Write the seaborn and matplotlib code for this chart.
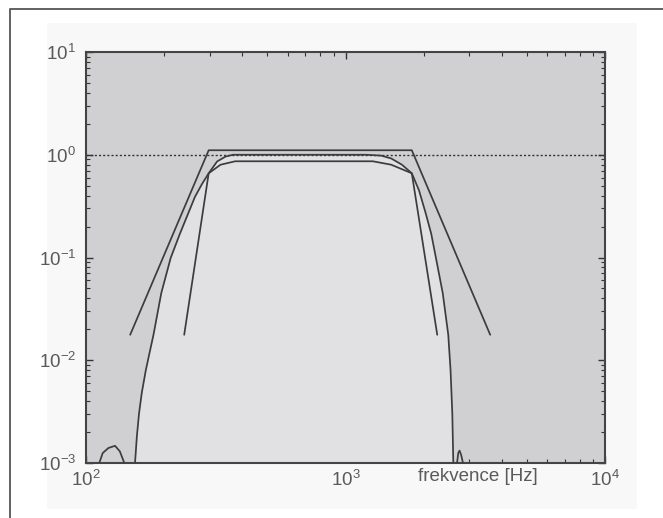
import numpy as np
import pandas as pd
import matplotlib
matplotlib.use("Agg")
import matplotlib.pyplot as plt
import seaborn as sns
from matplotlib.patches import Rectangle
from matplotlib.lines import Line2D

# outer tolerance envelope
outer_f = [148, 297, 1801, 3611]
outer_a = [0.0177, 1.106, 1.106, 0.0177]

# inner tolerance envelope
inner_f = [239, 297, 330, 376, 1274, 1500, 1801, 2257]
inner_a = [0.0177, 0.66, 0.80, 0.864, 0.864, 0.80, 0.66, 0.0177]

# filter response (filled)
resp_f = [154.5, 157, 160, 164, 170, 176, 182, 195, 212, 230, 263, 280, 297,
          320, 345, 369, 500, 800, 1200, 1374, 1500, 1650, 1801, 1920, 2037,
          2140, 2240, 2370, 2489, 2540, 2580, 2603]
resp_a = [0.001, 0.0018, 0.003, 0.0048, 0.008, 0.012, 0.0177, 0.045, 0.099,
          0.17, 0.39, 0.52, 0.66, 0.86, 0.96, 1.0, 1.0, 1.0, 1.0, 0.98, 0.92,
          0.80, 0.66, 0.45, 0.27, 0.17, 0.094, 0.045, 0.0177, 0.008, 0.003,
          0.001]

# side lobes
lobe1_f = [112.5, 116, 122, 129.4, 135, 140.5]
lobe1_a = [0.001, 0.00125, 0.0014, 0.00147, 0.0013, 0.001]
lobe2_f = [2690, 2720, 2750, 2790, 2836]
lobe2_a = [0.001, 0.00125, 0.00132, 0.0012, 0.001]

sns.set_style("ticks")
plt.rcParams["font.family"] = ["Liberation Sans", "DejaVu Sans"]
plt.rcParams["mathtext.fontset"] = "custom"
plt.rcParams["mathtext.rm"] = "Liberation Sans"
plt.rcParams["mathtext.it"] = "Liberation Sans"

fig = plt.figure(figsize=(6.63, 5.18), dpi=100)
fig.patch.set_facecolor("white")
# faint panel and frame around the figure
fig.add_artist(Rectangle((47 / 663, 1 - 509 / 518), 590 / 663, 486 / 518,
                         transform=fig.transFigure, facecolor="#f8f8f8",
                         edgecolor="none", zorder=-5))
fig.add_artist(Line2D([10 / 663, 10 / 663, 1], [0, 1 - 9 / 518, 1 - 9 / 518],
                      transform=fig.transFigure, color="#555555", lw=1.3,
                      zorder=-4))

ax = fig.add_axes([86 / 663, 1 - 463 / 518, 519 / 663, 411 / 518])
ax.set_facecolor("#d0d0d2")
ax.set_xscale("log")
ax.set_yscale("log")

line_col = "#3c3c3c"
ax.fill_between(resp_f, resp_a, 1e-3, color="#e1e1e3", lw=0, zorder=1)
ax.axhline(1.0, ls=(0, (1.5, 1.5)), color="#333333", lw=1.0, zorder=2)

for fx, ay in [(resp_f, resp_a), (outer_f, outer_a), (inner_f, inner_a),
               (lobe1_f, lobe1_a), (lobe2_f, lobe2_a)]:
    sns.lineplot(x=fx, y=ay, sort=False, estimator=None, color=line_col,
                 lw=1.25, ax=ax, zorder=3)

ax.set_xlim(1e2, 1e4)
ax.set_ylim(1e-3, 1e1)

ax.tick_params(which="both", direction="in", top=True, right=True,
               colors="#333333", labelcolor="#5a5a5a", labelsize=13.5)
ax.tick_params(which="major", length=5, width=1)
ax.tick_params(which="minor", length=3, width=0.8)
ax.tick_params(axis="x", pad=5)
ax.tick_params(axis="y", pad=7)
for s in ax.spines.values():
    s.set_color("#444444")
    s.set_linewidth(1.5)

ax.set_xlabel("frekvence [Hz]", fontsize=13.5, color="#5a5a5a")
ax.xaxis.set_label_coords(0.755, -0.013)
ax.xaxis.label.set_va("top")

fig.savefig("out.png", dpi=100)
